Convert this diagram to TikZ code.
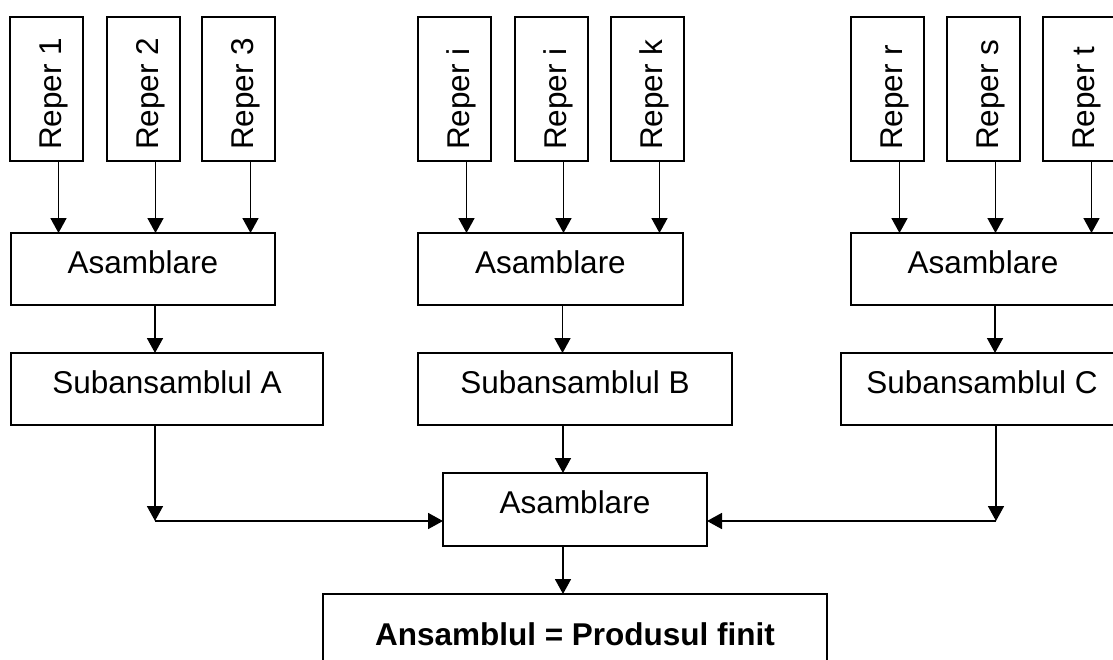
\documentclass[tikz,border=0pt]{standalone}
\usepackage{fontspec}
\setmainfont{Liberation Sans}
\usetikzlibrary{arrows.meta}
\begin{document}
\begin{tikzpicture}[x=1pt,y=-1pt,
  box/.style={draw=black,line width=1.6pt,rectangle,inner sep=0pt,outer sep=0pt,anchor=north west},
  lbl/.style={inner sep=0pt,anchor=base,font=\fontsize{31.5}{36}\selectfont},
  vlbl/.style={inner sep=0pt,anchor=base west,rotate=90,font=\fontsize{31.5}{36}\selectfont},
  arr/.style={draw=black,line width=1.7pt,-{Triangle[width=16pt,length=15pt]}}]
\useasboundingbox (0,0) rectangle (1113,659);
\clip (0,0) rectangle (1113,659);

% parts (reper boxes)
\foreach \n/\xl in {r1/10,r2/107,r3/202,r4/418,r5/515,r6/611,r7/851,r8/947,r9/1043}
  \node[box,minimum width=73pt,minimum height=144pt] (\n) at (\xl,17) {};
\node[vlbl] at (61,150) {Reper 1};
\node[vlbl] at (158,150) {Reper 2};
\node[vlbl] at (253,150) {Reper 3};
\node[vlbl] at (469,150) {Reper i};
\node[vlbl] at (566,150) {Reper i};
\node[vlbl] at (662,150) {Reper k};
\node[vlbl] at (902,150) {Reper r};
\node[vlbl] at (998,150) {Reper s};
\node[vlbl] at (1094,150) {Reper t};

% first assembly stage
\node[box,minimum width=264pt,minimum height=72pt] (a1) at (11,233) {};
\node[box,minimum width=265pt,minimum height=72pt] (a2) at (418,233) {};
\node[box,minimum width=264pt,minimum height=72pt] (a3) at (851,233) {};
\node[lbl] at (143,273) {Asamblare};
\node[lbl] at (550.5,273) {Asamblare};
\node[lbl] at (983,273) {Asamblare};

% subassemblies
\node[box,minimum width=312pt,minimum height=72pt] (s1) at (11,353) {};
\node[box,minimum width=314pt,minimum height=72pt] (s2) at (418,353) {};
\node[box,minimum width=282pt,minimum height=72pt] (s3) at (841,353) {};
\node[lbl] at (167,393) {Subansamblul A};
\node[lbl] at (575,393) {Subansamblul B};
\node[lbl] at (982,393) {Subansamblul C};

% final assembly and product
\node[box,minimum width=264pt,minimum height=73pt] (m) at (443,473) {};
\node[lbl] at (575,513) {Asamblare};
\node[box,minimum width=504pt,minimum height=110pt] (fin) at (323,594) {};
\node[lbl,font=\fontsize{31.5}{36}\selectfont\bfseries] at (575,645) {Ansamblul = Produsul finit};

% connectors
\foreach \r/\a in {r1/a1,r2/a1,r3/a1,r4/a2,r5/a2,r6/a2,r7/a3,r8/a3,r9/a3}
  \draw[arr] ([xshift=12pt]\r.south) -- ([xshift=12pt]\r.south |- \a.north);
\foreach \a/\s in {a1/s1,a2/s2,a3/s3}
  \draw[arr] ([xshift=12pt]\a.south) -- ([xshift=12pt]\a.south |- \s.north);

\coordinate (cA) at (155,521);
\coordinate (cC) at (996,521);
\draw[arr] (s1.south -| cA) -- (cA);
\draw[arr] (cA) -- (cA -| m.west);
\draw[arr] (s3.south -| cC) -- (cC);
\draw[arr] (cC) -- (cC -| m.east);
\draw[arr] ([xshift=-12pt]s2.south) -- ([xshift=-12pt]s2.south |- m.north);
\draw[arr] ([xshift=-12pt]m.south) -- ([xshift=-12pt]m.south |- fin.north);
\end{tikzpicture}
\end{document}
